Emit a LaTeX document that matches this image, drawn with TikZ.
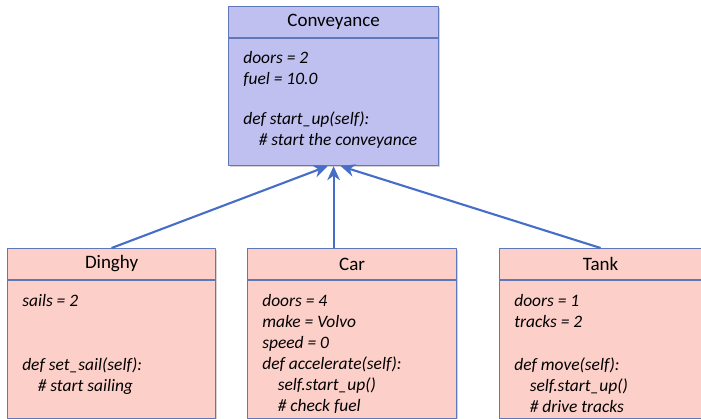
\documentclass[tikz,border=0pt]{standalone}
\usepackage{fontspec}
\setmainfont{Carlito}
\usetikzlibrary{arrows.meta,shadows}
\definecolor{convfill}{RGB}{192,192,240}
\definecolor{subfill}{RGB}{252,207,200}
\definecolor{boxline}{RGB}{95,120,185}
\definecolor{arrowblue}{RGB}{70,110,200}
\tikzset{
  classbox/.style={draw=boxline, line width=0.8pt, inner sep=0pt, anchor=north west,
    drop shadow={opacity=0.35, shadow xshift=1.2pt, shadow yshift=-1.2pt}},
  classname/.style={font=\fontsize{13.5}{15}\selectfont},
  members/.style={font=\fontsize{12.4}{14.9}\selectfont\itshape, align=left, anchor=north west, inner sep=0pt},
  divider/.style={draw=boxline, line width=0.8pt},
  inherit/.style={draw=arrowblue, line width=1.5pt, -{Stealth[length=10pt,width=9pt]}}
}
\newcommand{\ind}{\hspace*{11pt}}
\begin{document}
\begin{tikzpicture}[x=0.025cm, y=-0.025cm, line join=round]
	\useasboundingbox (0,0) rectangle (701,419);
	% superclass
	\node[classbox, fill=convfill, minimum width=5.25cm, minimum height=3.975cm] (conv) at (228,6) {};
	\draw[divider] ([yshift=-0.8cm]conv.north west) -- ([yshift=-0.8cm]conv.north east);
	\node[classname] (convname) at ([yshift=-0.4cm]conv.north) {Conveyance};
	\node[members] (convbody) at ([xshift=0.375cm, yshift=-1.13cm]conv.north west)
		{doors = 2\\ fuel = 10.0\\[13.5pt] def start\_up(self):\\ \ind\# start the conveyance};
	% subclasses
	\node[classbox, fill=subfill, minimum width=5.2cm, minimum height=4.25cm] (dinghy) at (7,248) {};
	\node[classbox, fill=subfill, minimum width=5.225cm, minimum height=4.25cm] (car) at (247,248) {};
	\node[classbox, fill=subfill, minimum width=5.05cm, minimum height=4.25cm] (tank) at (499,248) {};
	\foreach \cls/\name in {dinghy/Dinghy, car/Car, tank/Tank} {
		\draw[divider] ([yshift=-0.8cm]\cls.north west) -- ([yshift=-0.8cm]\cls.north east);
		\node[classname] (\cls name) at ([yshift=-0.4cm]\cls.north) {\name};
	}
	\node[members] (dinghybody) at ([xshift=0.375cm, yshift=-1.15cm]dinghy.north west)
		{sails = 2\\[30.6pt] def set\_sail(self):\\ \ind\# start sailing};
	\node[members] (carbody) at ([xshift=0.375cm, yshift=-1.15cm]car.north west)
		{doors = 4\\ make = Volvo\\ speed = 0\\ def accelerate(self):\\ \ind self.start\_up()\\ \ind\# check fuel};
	\node[members] (tankbody) at ([xshift=0.375cm, yshift=-1.15cm]tank.north west)
		{doors = 1\\ tracks = 2\\[15.7pt] def move(self):\\ \ind self.start\_up()\\ \ind\# drive tracks};
	% inheritance arrows
	\draw[inherit] (dinghy.north) -- ([xshift=-0.15cm]conv.south);
	\draw[inherit] (car.north -| conv.south) -- (conv.south);
	\draw[inherit] (tank.north) -- ([xshift=0.18cm]conv.south);
\end{tikzpicture}
\end{document}
